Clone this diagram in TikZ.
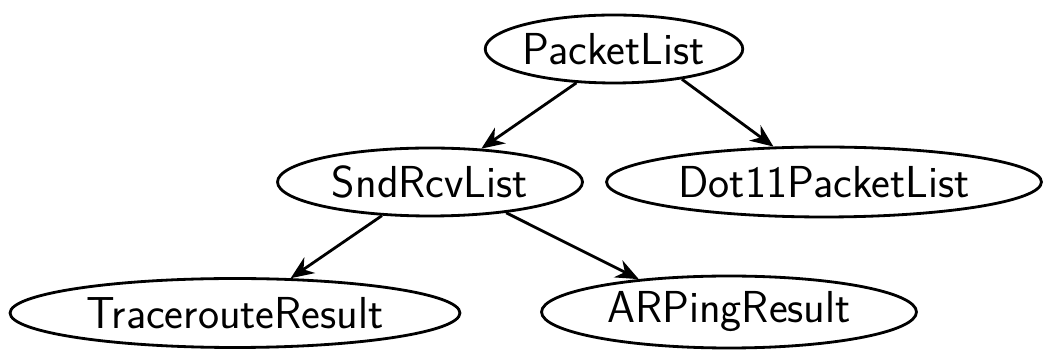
\documentclass[tikz,border=0pt]{standalone}
\usepackage{tikz}
\usetikzlibrary{shapes.geometric,arrows.meta}

\tikzset{
  cls/.style={draw, ellipse, line width=1.6pt, inner sep=0pt,
    font=\sffamily\fontsize{25.5}{30}\selectfont},
  inh/.style={line width=1.6pt, -{Stealth[length=0.46cm,width=0.38cm]}}
}

\begin{document}
\begin{tikzpicture}[x=0.02cm,y=-0.02cm]
  \useasboundingbox (0,0) rectangle (1043,350);
  \node[cls, minimum width=5.1cm, minimum height=1.36cm] (pl) at (614,49) {PacketList};
  \node[cls, minimum width=6.1cm, minimum height=1.36cm] (srl) at (430,182) {SndRcvList};
  \node[cls, minimum width=8.7cm, minimum height=1.4cm] (dot) at (824,182) {Dot11PacketList};
  \node[cls, minimum width=9cm, minimum height=1.38cm] (trr) at (235,313) {TracerouteResult};
  \node[cls, minimum width=7.5cm, minimum height=1.44cm] (arp) at (729,312) {ARPingResult};
  \draw[inh] (pl.-138) -- (srl.33);
  \draw[inh] (pl.-24) -- (dot.145);
  \draw[inh] (srl.-145) -- (trr.32);
  \draw[inh] (srl.-22) -- (arp.160);
\end{tikzpicture}
\end{document}
